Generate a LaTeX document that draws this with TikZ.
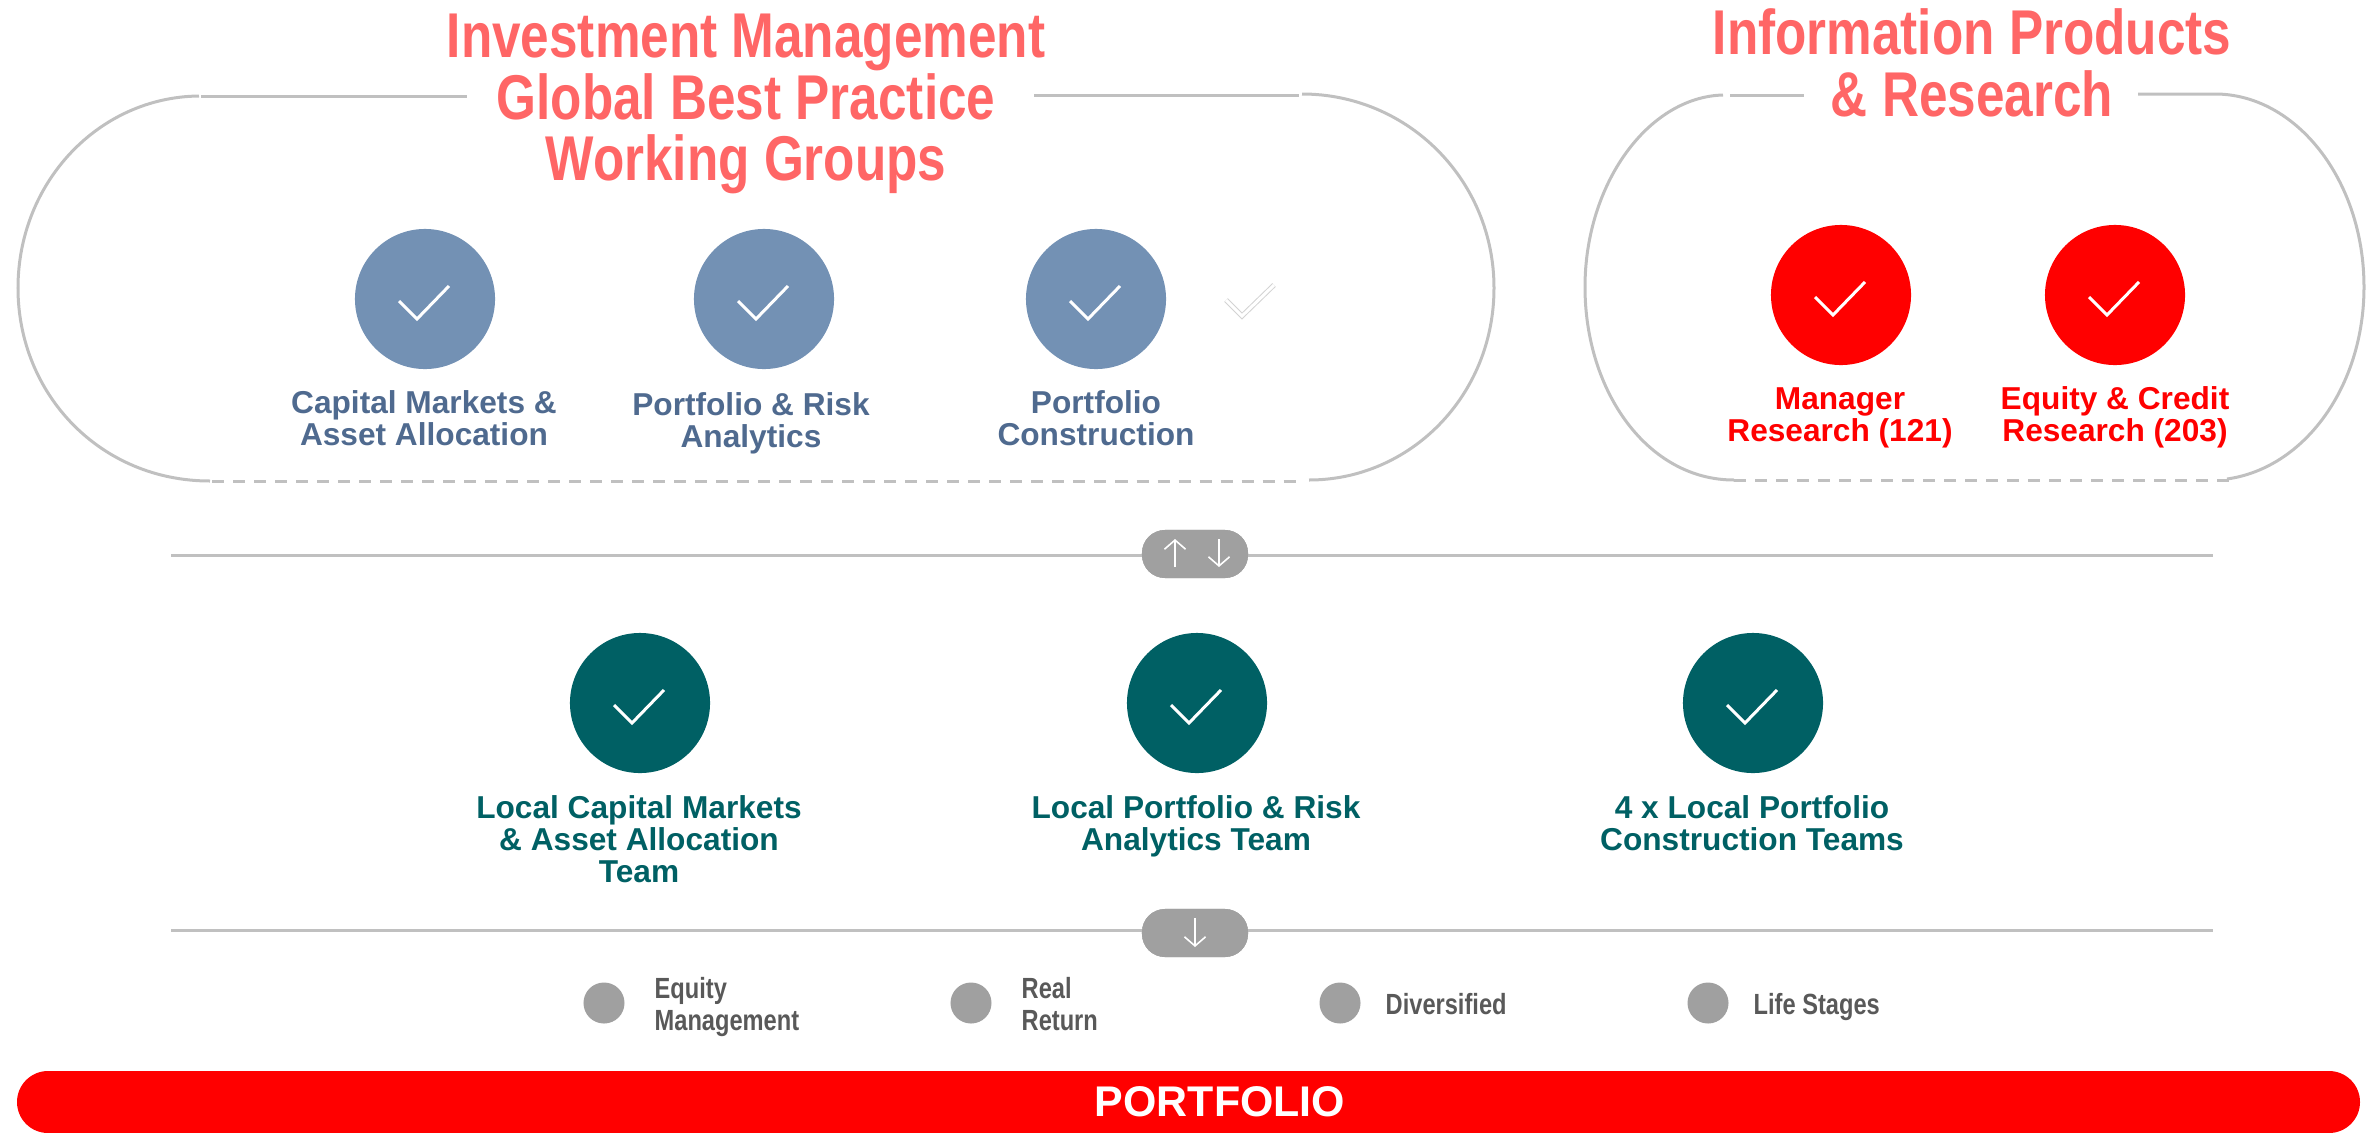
\documentclass[tikz,border=0pt]{standalone}
\usepackage{fontspec}
\usetikzlibrary{arrows.meta}
\setmainfont{Liberation Sans}
\newfontfamily\narrowfont[FakeStretch=0.81]{Liberation Sans}
\definecolor{headred}{HTML}{FF6666}
\definecolor{purered}{HTML}{FF0000}
\definecolor{slateblue}{HTML}{7391B4}
\definecolor{slatetext}{HTML}{4F6A8F}
\definecolor{deepteal}{HTML}{006064}
\definecolor{pillgray}{HTML}{A0A0A0}
\definecolor{rulegray}{HTML}{C0C0C0}
\definecolor{legendtext}{HTML}{595959}
\tikzset{
	heading/.style={inner sep=0pt,align=center,text=headred,font=\narrowfont\bfseries\fontsize{18}{17.6}\selectfont},
	label/.style={inner sep=0pt,align=center,font=\bfseries\fontsize{9}{9.05}\selectfont},
	legendlabel/.style={inner sep=0pt,anchor=west,align=left,text=legendtext,font=\narrowfont\bfseries\fontsize{8.3}{9.1}\selectfont},
	disc/.style={circle,inner sep=0pt,minimum size=1.4cm},
	legenddisc/.style={circle,inner sep=0pt,minimum size=.41cm,fill=pillgray},
	pill/.style={rectangle,inner sep=0pt,fill=pillgray,minimum width=1.06cm,minimum height=.48cm,rounded corners=.23cm},
	outline/.style={draw=rulegray,line width=.03cm},
	tick/.style={draw=white,line width=.03cm},
	pillarrow/.style={draw=white,line width=.016cm,-{Straight Barb[length=2.6pt,width=6pt]}},
}
\newcommand{\tickmark}[1]{\draw[tick] ([shift={(-26,2)}]#1.center) -- ([shift={(-8,20)}]#1.center) -- ([shift={(24,-13)}]#1.center);}
\begin{document}
\begin{tikzpicture}[x=.01cm,y=-.01cm]
	\useasboundingbox (0,0) rectangle (2372,1133);
	\draw[outline] (199,96) .. controls (99,97) and (18,182) .. (18,288) .. controls (18,394) and (100,481) .. (210,481);
	\draw[outline] (201,96) -- (467,96);
	\draw[outline] (1034,95) -- (1299,95);
	\draw[outline] (1302,94) .. controls (1408,94) and (1494,180) .. (1494,288) .. controls (1494,396) and (1410,480) .. (1309,480);
	\draw[outline,dash pattern=on .12cm off .09cm] (212,481) -- (1303,481);
	\draw[outline] (1723,95) .. controls (1648,97) and (1585,184) .. (1585,287) .. controls (1585,392) and (1648,480) .. (1734,480);
	\draw[outline] (1730,95) -- (1804,95);
	\draw[outline] (2138,94) -- (2215,94) .. controls (2296,94) and (2364,180) .. (2364,287) .. controls (2364,386) and (2305,468) .. (2227,479);
	\draw[outline,dash pattern=on .12cm off .09cm] (1734,480) -- (2232,480);
	\node[heading] (investment) at (746,104) {Investment Management\\Global Best Practice\\Working Groups};
	\node[heading] (information) at (1972,63) {Information Products\\\& Research};
	\node[disc,fill=slateblue] (capital) at (425,299) {};
	\node[disc,fill=slateblue] (risk) at (764,299) {};
	\node[disc,fill=slateblue] (construction) at (1096,299) {};
	\tickmark{capital}
	\tickmark{risk}
	\tickmark{construction}
	\draw[draw=rulegray!70,line width=.01cm,double=white,double distance=.03cm] (1226,300) -- (1242,316) -- (1274,285);
	\node[label,text=slatetext] (capitaltext) at (424,418) {Capital Markets \&\\Asset Allocation};
	\node[label,text=slatetext] (risktext) at (751,423) {Portfolio \& Risk\\Analytics};
	\node[label,text=slatetext] (constructiontext) at (1096,418) {Portfolio\\Construction};
	\node[disc,fill=purered] (manager) at (1841,295) {};
	\node[disc,fill=purered] (equity) at (2115,295) {};
	\tickmark{manager}
	\tickmark{equity}
	\node[label,text=purered] (managertext) at (1840,418) {Manager\\Research (121)};
	\node[label,text=purered] (equitytext) at (2115,417) {Equity \& Credit\\Research (203)};
	\coordinate (upperleft) at (171,555);
	\coordinate (upperright) at (2213,555);
	\node[pill] (updown) at (1195,554) {};
	\draw[outline] (upperleft) -- (upperright);
	\node[pill] (updown) at (1195,554) {};
	\draw[pillarrow] ([shift={(-20,13)}]updown.center) -- ([shift={(-20,-15)}]updown.center);
	\draw[pillarrow] ([shift={(24,-15)}]updown.center) -- ([shift={(24,13)}]updown.center);
	\node[disc,fill=deepteal] (localcapital) at (640,703) {};
	\node[disc,fill=deepteal] (localrisk) at (1197,703) {};
	\node[disc,fill=deepteal] (localconstruction) at (1753,703) {};
	\tickmark{localcapital}
	\tickmark{localrisk}
	\tickmark{localconstruction}
	\node[label,text=deepteal] (localcapitaltext) at (639,839) {Local Capital Markets\\\& Asset Allocation\\Team};
	\node[label,text=deepteal] (localrisktext) at (1196,826) {Local Portfolio \& Risk\\Analytics Team};
	\node[label,text=deepteal] (localconstructiontext) at (1752,823) {4 x Local Portfolio\\Construction Teams};
	\coordinate (lowerleft) at (171,930);
	\coordinate (lowerright) at (2213,930);
	\node[pill] (down) at (1195,933) {};
	\draw[outline] (lowerleft) -- (lowerright);
	\node[pill] (down) at (1195,933) {};
	\draw[pillarrow] ([shift={(0,-15)}]down.center) -- ([shift={(0,14)}]down.center);
	\node[legenddisc] (equitydisc) at (604,1003) {};
	\node[legenddisc] (realdisc) at (971,1003) {};
	\node[legenddisc] (diversifieddisc) at (1340,1003) {};
	\node[legenddisc] (lifedisc) at (1708,1003) {};
	\node[legendlabel] (equitylabel) at (654,1007) {Equity\\Management};
	\node[legendlabel] (reallabel) at (1021,1004) {Real\\Return};
	\node[legendlabel] (diversifiedlabel) at (1385,1004) {Diversified};
	\node[legendlabel] (lifelabel) at (1753,1007) {Life Stages};
	\fill[purered,rounded corners=.31cm] (17,1071) rectangle (2360,1133);
	\node[inner sep=0pt,text=white,font=\bfseries\fontsize{12.2}{12.2}\selectfont] (portfolio) at (1220,1102) {PORTFOLIO};
\end{tikzpicture}
\end{document}
